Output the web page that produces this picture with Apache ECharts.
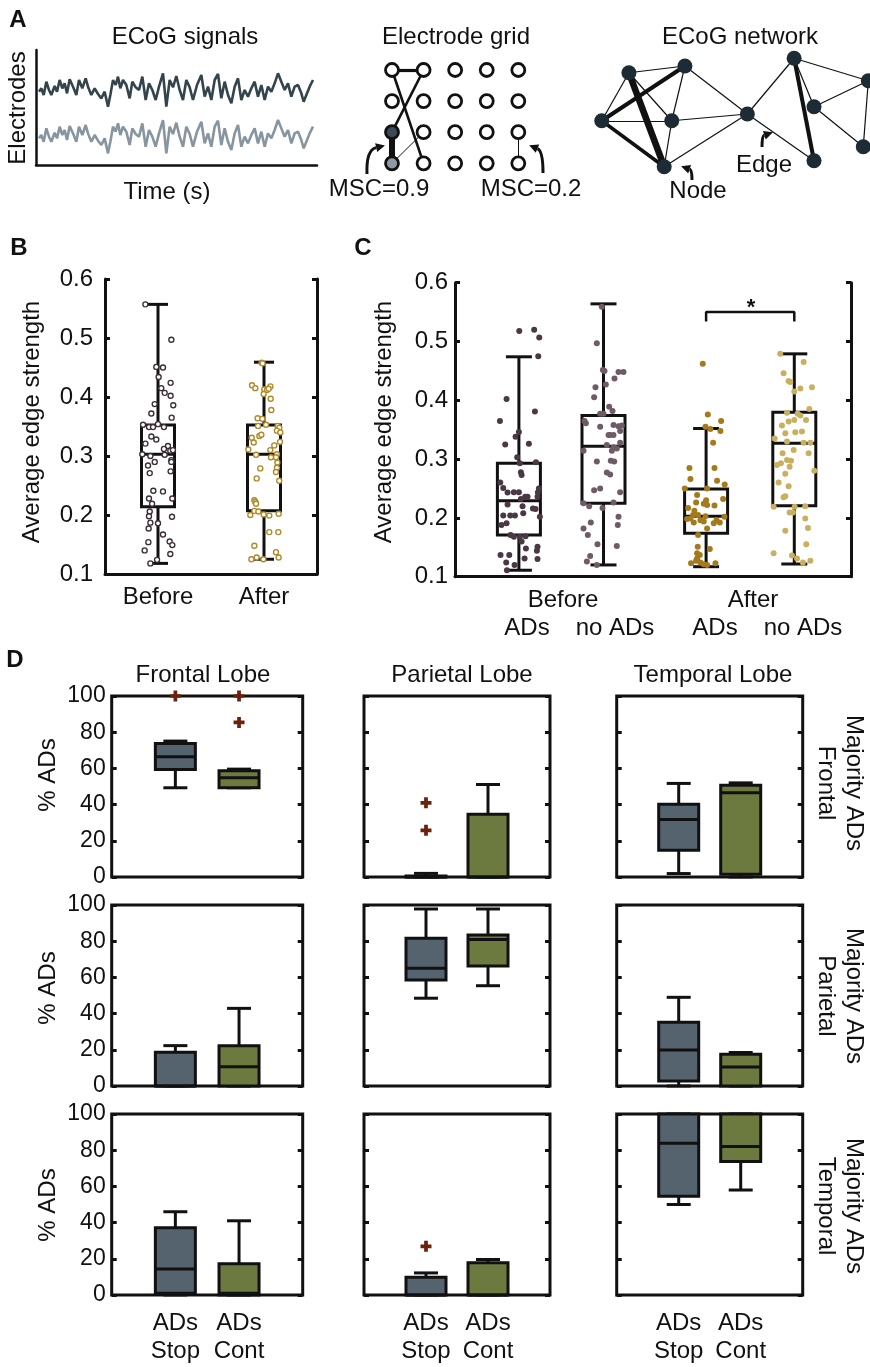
<!DOCTYPE html>
<html>
<head>
<meta charset="utf-8">
<script src="https://cdn.jsdelivr.net/npm/echarts/dist/echarts.min.js"></script>
<style>html,body{margin:0;padding:0;background:#fff}#main{width:870px;height:1367px}</style>
</head>
<body>
<div id="main"></div>
<script>
var FONT = "'Liberation Sans', Arial, sans-serif";
var INK = '#111';

// ---- panel A ----
// one ECoG trace [time, amplitude]; the two electrodes share the same shape
var ecogTrace = [[0,-0.5],[7,0.5],[14,-1.5],[22,2.5],[30,0],[37,-1.5],[47,1.2],[54,-0.5],[62,3],[70,0.5],
  [77,2],[84,-1],[92,3.2],[98,3.8],[104,0.5],[112,-1.5],[120,3],[130,0.5],[140,3.5],[147,1],
  [157,-1.5],[167,0.5],[177,-1.2],[187,-2.5],[197,-0.5],[207,-5],[214,-1.5],[222,3],[230,1.5],[237,4],
  [244,0.5],[252,3],[262,1.5],[272,-2.5],[280,2.5],[290,0.8],[300,0],[310,4],[320,-3],[330,2],
  [340,0],[350,-3],[360,1],[372,5],[382,-5],[392,3],[402,0.8],[412,4.2],[422,0],[432,-3],
  [442,3],[452,0.8],[462,-3],[474,1.5],[487,4.5],[497,-2],[507,1],[517,-3],[527,3],[537,4.8],
  [547,-2.5],[557,2.5],[567,-1.5],[577,-4],[587,1],[597,3.5],[607,-3],[617,0],[627,-2],[637,0.5],
  [647,2.5],[657,-2],[667,1.5],[677,-3],[687,1],[697,-0.5],[707,2],[717,5],[727,2.5],[737,0],
  [747,2],[757,-2],[767,1],[777,1.5],[787,-1],[794,-3.5],[802,-1.5],[812,1],[822,3]];

// electrode grid: 5 columns x 4 rows, index = row*5 + col
var electrodeLinks = [[0,1,3.2],[1,10,2.6],[0,16,2.6],[10,15,6],[15,11,1],[14,19,1]];
var electrodeFill = {10: '#3b4a54', 15: '#8d9aa4'};

// network nodes [x, y] and links [source, target, width]
var netNodes = [[1.39,8.18],[3.39,8.72],[0.42,4.34],[2.92,4.34],[2.65,0.66],[5.62,4.88],
  [7.29,9.34],[8.0,5.46],[8.0,1.14],[9.94,7.54],[9.76,2.26]];
var netLinks = [[0,1,1.2],[0,2,1.2],[0,3,1.2],[0,4,6.5],[2,1,4],[2,3,1.2],[2,4,3.5],[1,3,1.2],
  [1,5,1.2],[3,5,1.2],[3,4,1.2],[4,5,1.2],[5,6,1.2],[5,8,1.2],[6,8,4],[6,7,1.2],[6,9,1.2],
  [7,9,1.2],[7,10,1.2],[9,10,1.2]];

// ---- panel B ----
var bCats = ['Before', 'After'];
// [x, low, q1, median, q3, high]
var bBoxes = [[1, 0.118, 0.214, 0.303, 0.3525, 0.557], [2, 0.125, 0.207, 0.303, 0.3525, 0.459]];
var bBefore = [[0.881,0.557],[1.126,0.497],[0.984,0.451],[1.047,0.450],[1.006,0.434],[1.119,0.424],[1.031,0.415],
  [1.063,0.407],[1.119,0.402],[0.969,0.388],[1.144,0.386],[0.937,0.372],[1.129,0.365],[0.859,0.353],[0.915,0.349],
  [0.953,0.349],[1.000,0.354],[1.056,0.349],[0.937,0.333],[0.984,0.328],[0.881,0.321],[1.094,0.317],[1.056,0.312],
  [1.116,0.309],[1.141,0.310],[0.852,0.303],[0.928,0.300],[1.063,0.302],[1.126,0.293],[1.126,0.290],[0.906,0.284],
  [0.969,0.290],[0.922,0.271],[1.119,0.274],[0.956,0.241],[1.047,0.240],[0.915,0.228],[0.944,0.219],[1.135,0.228],
  [0.922,0.206],[0.915,0.198],[1.132,0.197],[0.928,0.187],[1.000,0.186],[0.912,0.177],[1.047,0.167],[1.110,0.155],
  [1.135,0.149],[0.909,0.154],[0.874,0.140],[1.116,0.134],[0.991,0.124],[0.928,0.118]];
var bAfter = [[1.978,0.458],[1.987,0.457],[1.887,0.420],[1.918,0.415],[2.003,0.413],[2.028,0.412],[2.060,0.418],
  [2.044,0.414],[1.997,0.405],[2.063,0.397],[2.069,0.378],[1.940,0.364],[1.984,0.363],[2.019,0.353],[1.944,0.351],
  [2.129,0.351],[2.144,0.348],[2.122,0.343],[2.154,0.340],[1.884,0.331],[1.956,0.334],[1.975,0.336],[1.903,0.323],
  [2.097,0.318],[2.151,0.324],[1.852,0.311],[2.060,0.310],[1.925,0.302],[2.122,0.303],[2.113,0.298],[2.066,0.298],
  [2.126,0.289],[1.965,0.279],[2.122,0.280],[2.113,0.273],[2.144,0.258],[1.931,0.262],[1.909,0.225],[1.918,0.222],
  [1.925,0.219],[1.909,0.207],[1.947,0.206],[1.871,0.200],[1.997,0.201],[2.050,0.199],[2.138,0.202],[2.050,0.171],
  [2.135,0.171],[1.909,0.148],[2.113,0.137],[1.931,0.128],[1.881,0.125],[1.994,0.125],[2.138,0.128]];

// ---- panel C ----
var cGroups = ['Before', 'After'];
var cSub = ['ADs', 'no ADs', 'ADs', 'no ADs'];
var cPos = [0.71, 1.65, 2.79, 3.77];
var cBoxes = [[0.71, 0.111, 0.171, 0.229, 0.293, 0.474], [1.65, 0.120, 0.225, 0.322, 0.374, 0.564],
  [2.79, 0.117, 0.174, 0.203, 0.249, 0.352], [3.77, 0.1216, 0.2207, 0.327, 0.3795, 0.479]];
var cBeforeAD = [[0.714,0.518],[0.880,0.520],[0.936,0.507],[0.925,0.475],[0.573,0.402],[0.888,0.381],[0.499,0.365],
  [0.673,0.338],[0.710,0.346],[0.558,0.325],[0.821,0.326],[0.691,0.303],[0.899,0.2945],[0.721,0.293],[0.732,0.2775],
  [0.740,0.273],[0.503,0.260],[0.536,0.251],[0.584,0.243],[0.654,0.2435],[0.710,0.2435],[0.932,0.250],[0.921,0.243],
  [0.917,0.236],[0.732,0.232],[0.780,0.236],[0.806,0.236],[0.751,0.220],[0.584,0.223],[0.866,0.216],[0.895,0.215],
  [0.536,0.204],[0.614,0.204],[0.666,0.204],[0.758,0.208],[0.943,0.202],[0.517,0.188],[0.573,0.191],[0.617,0.171],
  [0.654,0.168],[0.721,0.168],[0.784,0.169],[0.740,0.160],[0.788,0.148],[0.917,0.151],[0.910,0.144],[0.506,0.137],
  [0.603,0.137],[0.569,0.124],[0.662,0.120],[0.773,0.131],[0.917,0.130],[0.577,0.111]];
var cBeforeNo = [[1.631,0.559],[1.576,0.497],[1.643,0.4515],[1.661,0.450],[1.772,0.437],[1.817,0.448],[1.872,0.448],
  [1.676,0.427],[1.561,0.422],[1.546,0.405],[1.713,0.389],[1.750,0.382],[1.613,0.377],[1.650,0.377],[1.439,0.365],
  [1.454,0.361],[1.613,0.355],[1.761,0.358],[1.817,0.356],[1.854,0.357],[1.835,0.348],[1.706,0.341],[1.724,0.341],
  [1.761,0.341],[1.687,0.324],[1.835,0.328],[1.428,0.314],[1.761,0.320],[1.743,0.314],[1.798,0.318],[1.576,0.296],
  [1.731,0.297],[1.769,0.296],[1.687,0.277],[1.724,0.274],[1.546,0.247],[1.613,0.250],[1.835,0.2435],[1.428,0.225],
  [1.491,0.220],[1.639,0.217],[1.761,0.226],[1.817,0.202],[1.809,0.188],[1.428,0.182],[1.509,0.192],[1.476,0.171],
  [1.583,0.155],[1.798,0.152],[1.502,0.135],[1.465,0.126],[1.576,0.120]];
var cAfterAD = [[2.753,0.462],[2.809,0.376],[2.957,0.365],[2.783,0.355],[2.838,0.351],[2.949,0.348],[2.868,0.328],
  [2.605,0.285],[2.883,0.285],[2.616,0.266],[2.912,0.263],[2.553,0.250],[2.801,0.250],[2.997,0.257],[2.690,0.239],
  [2.679,0.226],[2.790,0.230],[2.883,0.221],[2.979,0.232],[2.590,0.217],[2.660,0.212],[2.764,0.224],[2.801,0.222],
  [2.646,0.205],[2.701,0.205],[2.783,0.203],[2.994,0.202],[2.579,0.198],[2.616,0.199],[2.653,0.192],[2.727,0.196],
  [2.764,0.194],[2.905,0.196],[2.875,0.191],[2.942,0.192],[2.701,0.171],[2.801,0.182],[2.697,0.151],[2.831,0.147],
  [2.690,0.140],[2.720,0.137],[2.679,0.127],[2.727,0.124],[2.623,0.123],[2.764,0.121],[2.801,0.120],[2.894,0.123],
  [2.690,0.131]];
var cAfterNo = [[3.614,0.479],[3.874,0.465],[3.651,0.446],[3.707,0.433],[3.726,0.431],[3.837,0.420],[3.966,0.422],
  [3.770,0.415],[3.689,0.379],[3.807,0.377],[3.937,0.385],[3.837,0.374],[3.900,0.3665],[3.633,0.357],[3.707,0.364],
  [3.770,0.3665],[3.670,0.344],[3.781,0.3455],[3.855,0.347],[3.551,0.335],[3.689,0.330],[3.948,0.328],[3.874,0.328],
  [3.640,0.310],[3.763,0.3155],[3.929,0.310],[3.689,0.2985],[3.733,0.297],[3.577,0.290],[3.622,0.293],[3.718,0.287],
  [3.992,0.280],[3.670,0.275],[3.596,0.260],[3.707,0.254],[3.670,0.237],[3.651,0.235],[3.540,0.219],[3.774,0.219],
  [3.892,0.220],[3.718,0.209],[3.755,0.209],[3.892,0.199],[3.922,0.183],[3.670,0.178],[3.903,0.155],[3.540,0.140],
  [3.744,0.136],[3.800,0.131],[3.866,0.124],[3.948,0.127]];
var sigY = 0.55, sigDrop = 0.016;

// ---- panel D ----
var lobes = ['Frontal Lobe', 'Parietal Lobe', 'Temporal Lobe'];
var majority = ['Frontal', 'Parietal', 'Temporal'];
var dXLabels = ['ADs\nStop', 'ADs\nCont'];
// [row = majority][col = lobe] = [low, q1, median, q3, high]
var dStop = [
  [[49.3,59.4,66.4,73.8,75.1], [0,0,0,0.5,2], [1.9,14.8,31.7,40.2,51.7]],
  [[0,0,0,18.6,22.3], [48.5,58.6,65,81.6,97.8], [0,2.8,19.9,35.2,49]],
  [[0,1,14.4,37.2,46], [0,0,0,9.8,12.2], [50,54.6,83.9,100,100]]];
var dCont = [
  [[49.3,49.3,54.8,58.7,59.6], [0,0,0,34.7,51.1], [0,1.5,46.5,50.7,52]],
  [[0,0,10.7,22.3,42.9], [55.4,66.3,81,83.4,97.8], [0,0,10.5,17.5,18.5]],
  [[0,0,1,17.2,41], [0,0,0,17.8,19.6], [58,73.7,82,100,100]]];
var dOutStop = [[[100], [41, 25.8], []], [[], [], []], [[], [26.9], []]];
var dOutCont = [[[100, 85.4], [], []], [[], [], []], [[], [], []]];

var myChart = echarts.init(document.getElementById('main'));

function boxRender(o) {
  return function (params, api) {
    var x = api.value(0);
    var p = function (i) { return api.coord([x, api.value(i)]); };
    var lo = p(1), q1 = p(2), md = p(3), q3 = p(4), hi = p(5);
    var cx = lo[0], bw = o.box / 2, cw = o.cap / 2;
    var st = {stroke: INK, lineWidth: o.lw, fill: 'none'};
    var fill = o.fills ? o.fills[params.dataIndex] : 'none';
    return {type: 'group', children: [
      {type: 'line', shape: {x1: cx, y1: hi[1], x2: cx, y2: q3[1]}, style: st},
      {type: 'line', shape: {x1: cx, y1: q1[1], x2: cx, y2: lo[1]}, style: st},
      {type: 'line', shape: {x1: cx - cw, y1: hi[1], x2: cx + cw, y2: hi[1]}, style: st},
      {type: 'line', shape: {x1: cx - cw, y1: lo[1], x2: cx + cw, y2: lo[1]}, style: st},
      {type: 'rect', shape: {x: cx - bw, y: q3[1], width: bw * 2, height: q1[1] - q3[1]},
        style: {stroke: INK, lineWidth: o.lw, fill: fill}},
      {type: 'line', shape: {x1: cx - bw, y1: md[1], x2: cx + bw, y2: md[1]}, style: st}
    ]};
  };
}

function hidden(gi, min, max, inv) {
  return {gridIndex: gi, type: 'value', min: min, max: max, inverse: !!inv, show: false};
}
function edgeAxis(gi, pos, min, max, labels, margin) {
  return {gridIndex: gi, type: 'value', position: pos, min: min, max: max, interval: 0.1,
    axisLine: {show: true, lineStyle: {color: INK, width: 3}},
    axisTick: {show: true, inside: true, length: 5, lineStyle: {color: INK, width: 3}},
    axisLabel: {show: labels, margin: margin, color: INK, fontSize: 24, fontFamily: FONT},
    splitLine: {show: false}};
}

var grid = [
  {left: 36, top: 50, width: 281, height: 115},
  {left: 39, top: 70, width: 274, height: 40},
  {left: 39, top: 116.7, width: 274, height: 40},
  {left: 392, top: 70, width: 126.3, height: 93.3},
  {left: 590, top: 50, width: 280, height: 125},
  {left: 105, top: 279, width: 212, height: 295},
  {left: 455, top: 282.7, width: 396, height: 294}
];
var frameLine = {show: true, lineStyle: {color: INK, width: 2.5}};
var xAxis = [
  {gridIndex: 0, type: 'value', min: 0, max: 1, axisLine: frameLine, axisTick: {show: false}, axisLabel: {show: false}, splitLine: {show: false}},
  hidden(1, 0, 822), hidden(2, 0, 822), hidden(3, 0, 4), hidden(4, 0, 10),
  {gridIndex: 5, type: 'category', data: bCats, axisLine: {show: true, lineStyle: {color: INK, width: 3}},
    axisTick: {show: false}, axisLabel: {margin: 11, color: INK, fontSize: 24, fontFamily: FONT}},
  hidden(5, 0.5, 2.5),
  {gridIndex: 6, type: 'value', min: 0, max: 4.4, axisLine: {show: true, lineStyle: {color: INK, width: 3}},
    axisTick: {show: false}, axisLabel: {show: false}, splitLine: {show: false}}
];
var yAxis = [
  {gridIndex: 0, type: 'value', min: 0, max: 1, axisLine: frameLine, axisTick: {show: false}, axisLabel: {show: false}, splitLine: {show: false}},
  hidden(1, -6, 6), hidden(2, -6, 6), hidden(3, 0, 3, true), hidden(4, 0, 10),
  edgeAxis(5, 'left', 0.1, 0.6, true, 12), edgeAxis(5, 'right', 0.1, 0.6, false, 0),
  edgeAxis(6, 'left', 0.1, 0.6, true, 7), edgeAxis(6, 'right', 0.1, 0.6, false, 0)
];

var electrodeData = [];
for (var r = 0; r < 4; r++) for (var c = 0; c < 5; c++) {
  var idx = r * 5 + c;
  electrodeData.push({value: [c, r], itemStyle: {color: electrodeFill[idx] || '#fff'}});
}
function toLinks(arr) {
  return arr.map(function (l) { return {source: l[0], target: l[1], lineStyle: {width: l[2]}}; });
}
function dots(data, color, size, hollow) {
  return {type: 'scatter', xAxisIndex: hollow ? 6 : 7, yAxisIndex: hollow ? 5 : 7, data: data, symbolSize: size,
    itemStyle: hollow ? {color: '#fff', borderColor: color, borderWidth: 1.4, opacity: 1} : {color: color, opacity: 1}};
}

var series = [
  {type: 'line', xAxisIndex: 1, yAxisIndex: 1, data: ecogTrace, showSymbol: false,
    lineStyle: {color: '#34444d', width: 2.6}},
  {type: 'line', xAxisIndex: 2, yAxisIndex: 2, data: ecogTrace, showSymbol: false,
    lineStyle: {color: '#8795a0', width: 2.6}},
  {type: 'graph', coordinateSystem: 'cartesian2d', xAxisIndex: 3, yAxisIndex: 3, symbolSize: 13,
    data: electrodeData, links: toLinks(electrodeLinks),
    itemStyle: {borderColor: INK, borderWidth: 2.8},
    lineStyle: {color: INK, opacity: 1, curveness: 0}},
  {type: 'graph', coordinateSystem: 'cartesian2d', xAxisIndex: 4, yAxisIndex: 4, symbolSize: 15,
    data: netNodes, links: toLinks(netLinks),
    itemStyle: {color: '#1d2b35'},
    lineStyle: {color: INK, opacity: 1, curveness: 0}},
  {type: 'custom', xAxisIndex: 6, yAxisIndex: 5, data: bBoxes,
    renderItem: boxRender({box: 33, cap: 20, lw: 3})},
  dots(bBefore, '#3d2f3a', 5, true),
  dots(bAfter, '#b08a2a', 5, true),
  {type: 'custom', xAxisIndex: 7, yAxisIndex: 7, data: cBoxes,
    renderItem: boxRender({box: 43, cap: 26, lw: 3})},
  dots(cBeforeAD, '#4a3844', 6),
  dots(cBeforeNo, '#6f5b68', 6),
  dots(cAfterAD, '#a47a1c', 6),
  dots(cAfterNo, '#c9b060', 6),
  {type: 'line', xAxisIndex: 7, yAxisIndex: 7, showSymbol: false,
    data: [[cPos[2], sigY - sigDrop], [cPos[2], sigY], [cPos[3], sigY], [cPos[3], sigY - sigDrop]],
    lineStyle: {color: INK, width: 2.5}}
];

var dLeft = [111.7, 364, 616.7], dWidth = [191, 186, 186], dTop = [696, 905, 1114], dH = 181;
var plus = 'path://M3.3,0H6.7V3.3H10V6.7H6.7V10H3.3V6.7H0V3.3H3.3Z';
for (var r = 0; r < 3; r++) for (var c = 0; c < 3; c++) {
  var k = r * 3 + c, gi = 7 + k, xi = 8 + k, yl = 9 + 2 * k;
  grid.push({left: dLeft[c], top: dTop[r], width: dWidth[c], height: dH, show: true,
    borderColor: INK, borderWidth: 3, backgroundColor: 'transparent'});
  xAxis.push({gridIndex: gi, type: 'value', min: 0, max: 3, interval: 1,
    axisLine: {show: false}, axisTick: {show: false}, splitLine: {show: false},
    axisLabel: {show: r === 2, margin: 14, lineHeight: 28, color: INK, fontSize: 24, fontFamily: FONT,
      formatter: function (v) { return dXLabels[v - 1] || ''; }}});
  ['left', 'right'].forEach(function (pos) {
    yAxis.push({gridIndex: gi, type: 'value', position: pos, min: 0, max: 100, interval: 20,
      axisLine: {show: false},
      axisTick: {show: true, inside: true, length: 5, lineStyle: {color: INK, width: 3}},
      axisLabel: {show: pos === 'left' && c === 0, margin: 6, color: INK, fontSize: 23, fontFamily: FONT},
      splitLine: {show: false}});
  });
  series.push({type: 'custom', xAxisIndex: xi, yAxisIndex: yl,
    data: [[1].concat(dStop[r][c]), [2].concat(dCont[r][c])],
    renderItem: boxRender({box: 40, cap: 24, lw: 3, fills: ['#55636f', '#6c7a40']})});
  var outs = dOutStop[r][c].map(function (v) { return [1, v]; })
    .concat(dOutCont[r][c].map(function (v) { return [2, v]; }));
  series.push({type: 'scatter', xAxisIndex: xi, yAxisIndex: yl, data: outs, symbol: plus,
    symbolSize: 11, itemStyle: {color: '#6b220c', opacity: 1}});
}

function txt(x, y, s, o) {
  o = o || {};
  return {type: 'text', x: x, y: y, rotation: o.rot || 0, z: 100,
    style: {text: s, fill: INK, align: 'center', verticalAlign: 'middle', lineHeight: o.lh || 28,
      font: (o.bold ? 'bold ' : '') + (o.size || 24) + 'px ' + FONT}};
}
function arrow(p0, cp, p1) {
  var dx = p1[0] - cp[0], dy = p1[1] - cp[1], L = Math.sqrt(dx * dx + dy * dy);
  dx /= L; dy /= L;
  var bx = p1[0] - dx * 7, by = p1[1] - dy * 7, hw = 4.5;
  return [
    {type: 'bezierCurve', shape: {x1: p0[0], y1: p0[1], cpx1: cp[0], cpy1: cp[1], x2: bx, y2: by},
      style: {stroke: INK, lineWidth: 3, fill: 'none'}},
    {type: 'polygon', shape: {points: [[p1[0] + dx * 2, p1[1] + dy * 2], [bx - dy * hw, by + dx * hw], [bx + dy * hw, by - dx * hw]]},
      style: {fill: INK}}
  ];
}

var R90 = Math.PI / 2;
var graphic = [
  txt(18, 20, 'A', {bold: true}),
  txt(185, 37, 'ECoG signals'),
  txt(18, 108, 'Electrodes', {rot: R90}),
  txt(167, 192, 'Time (s)'),
  txt(456, 37, 'Electrode grid'),
  txt(379, 189, 'MSC=0.9'),
  txt(531, 189, 'MSC=0.2'),
  txt(740, 37, 'ECoG network'),
  txt(698, 191, 'Node'),
  txt(764, 165, 'Edge'),
  txt(19, 248, 'B', {bold: true}),
  txt(32, 422, 'Average edge strength', {rot: R90}),
  txt(363, 248, 'C', {bold: true}),
  txt(384, 422, 'Average edge strength', {rot: R90}),
  txt(563, 600, cGroups[0]), txt(753, 600, cGroups[1]),
  txt(527, 628, cSub[0]), txt(615, 628, cSub[1]), txt(715, 628, cSub[2]), txt(803, 628, cSub[3]),
  txt(751, 308, '*', {bold: true, size: 22}),
  txt(15, 660, 'D', {bold: true}),
  txt(203, 675, lobes[0]), txt(462, 675, lobes[1]), txt(713, 675, lobes[2]),
  txt(48, 775, '% ADs', {rot: R90}), txt(48, 988, '% ADs', {rot: R90}), txt(48, 1205, '% ADs', {rot: R90}),
  txt(840, 783, 'Majority ADs\n' + majority[0], {rot: -R90}),
  txt(840, 996, 'Majority ADs\n' + majority[1], {rot: -R90}),
  txt(840, 1206, 'Majority ADs\n' + majority[2], {rot: -R90})
].concat(arrow([367, 174], [366, 150], [383, 146]))
 .concat(arrow([543, 173], [543, 151], [531, 146]))
 .concat(arrow([692, 180], [692, 170], [683, 167]))
 .concat(arrow([762, 147], [762, 136], [771, 133]));

option = {
  animation: false,
  backgroundColor: '#fff',
  grid: grid,
  xAxis: xAxis,
  yAxis: yAxis,
  series: series,
  graphic: graphic
};
myChart.setOption(option);
</script>
</body>
</html>
